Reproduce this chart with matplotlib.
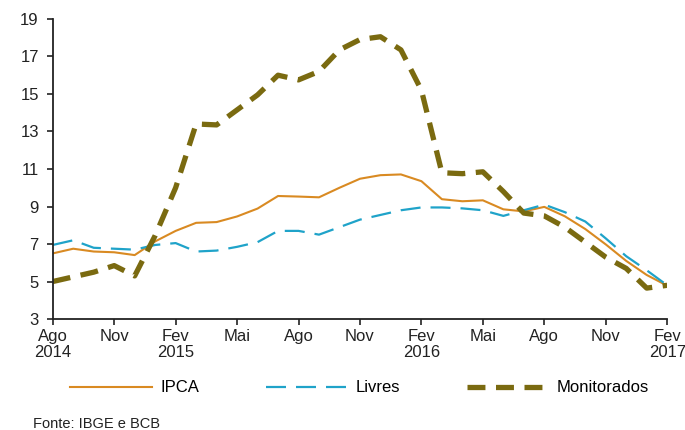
import matplotlib
matplotlib.use('Agg')
import matplotlib.pyplot as plt
import numpy as np

plt.rcParams['font.family'] = ['Liberation Sans', 'DejaVu Sans']

# Meses de Ago/2014 a Fev/2017 (índice mensal)
meses = np.arange(31)
tick_pos = list(range(0, 31, 3))
tick_labels = ["Ago\n2014", "Nov", "Fev\n2015", "Mai", "Ago", "Nov",
               "Fev\n2016", "Mai", "Ago", "Nov", "Fev\n2017"]

# Variação em 12 meses (%)
ipca = [6.5, 6.75, 6.6, 6.56, 6.41, 7.14, 7.7, 8.13, 8.17, 8.47, 8.89, 9.56,
        9.53, 9.49, 10.0, 10.48, 10.67, 10.71, 10.35, 9.39, 9.28, 9.33, 8.85,
        8.74, 8.98, 8.48, 7.8, 6.98, 6.1, 5.35, 4.78]
livres = [6.95, 7.2, 6.8, 6.75, 6.7, 6.95, 7.05, 6.6, 6.65, 6.85, 7.1, 7.7,
          7.7, 7.5, 7.9, 8.3, 8.55, 8.8, 8.95, 8.95, 8.9, 8.8, 8.5, 8.8,
          9.1, 8.7, 8.2, 7.3, 6.35, 5.6, 4.8]
monitorados = [5.0, 5.25, 5.5, 5.85, 5.3, 7.45, 10.0, 13.4, 13.35, 14.15,
               14.95, 16.0, 15.75, 16.2, 17.35, 17.9, 18.05, 17.35, 15.2,
               10.8, 10.75, 10.85, 9.8, 8.65, 8.5, 7.9, 7.1, 6.3, 5.7, 4.65,
               4.8]

fig = plt.figure(figsize=(6.85, 4.3), dpi=100)
ax = fig.add_axes([0.077, 0.258, 0.897, 0.698])

ax.plot(meses, ipca, color='#D98A22', lw=1.5, label='IPCA')
ax.plot(meses, livres, color='#1FA3C9', lw=1.6, dashes=(9, 4.5), label='Livres')
ax.plot(meses, monitorados, color='#7A6A10', lw=3.8, dashes=(3.4, 2.0),
        label='Monitorados')

ax.set_xlim(0, 30)
ax.set_ylim(3, 19)
ax.set_yticks(range(3, 20, 2))
ax.set_xticks(tick_pos)
ax.set_xticklabels(tick_labels, linespacing=1.05)
ax.tick_params(labelsize=12, length=4, width=1.2, colors='#222222')
ax.tick_params(axis='y', pad=6)
for s in ['top', 'right']:
    ax.spines[s].set_visible(False)
for s in ['left', 'bottom']:
    ax.spines[s].set_linewidth(1.3)
    ax.spines[s].set_color('#222222')

fig.legend(loc='center', bbox_to_anchor=(0.525, 0.098), ncol=3, frameon=False,
           fontsize=12, handlelength=4.9, handletextpad=0.5,
           columnspacing=4.0)

fig.text(0.048, 0.005, "Fonte: IBGE e BCB", fontsize=10.5, color='#222222')

fig.savefig('out.png', dpi=100)
